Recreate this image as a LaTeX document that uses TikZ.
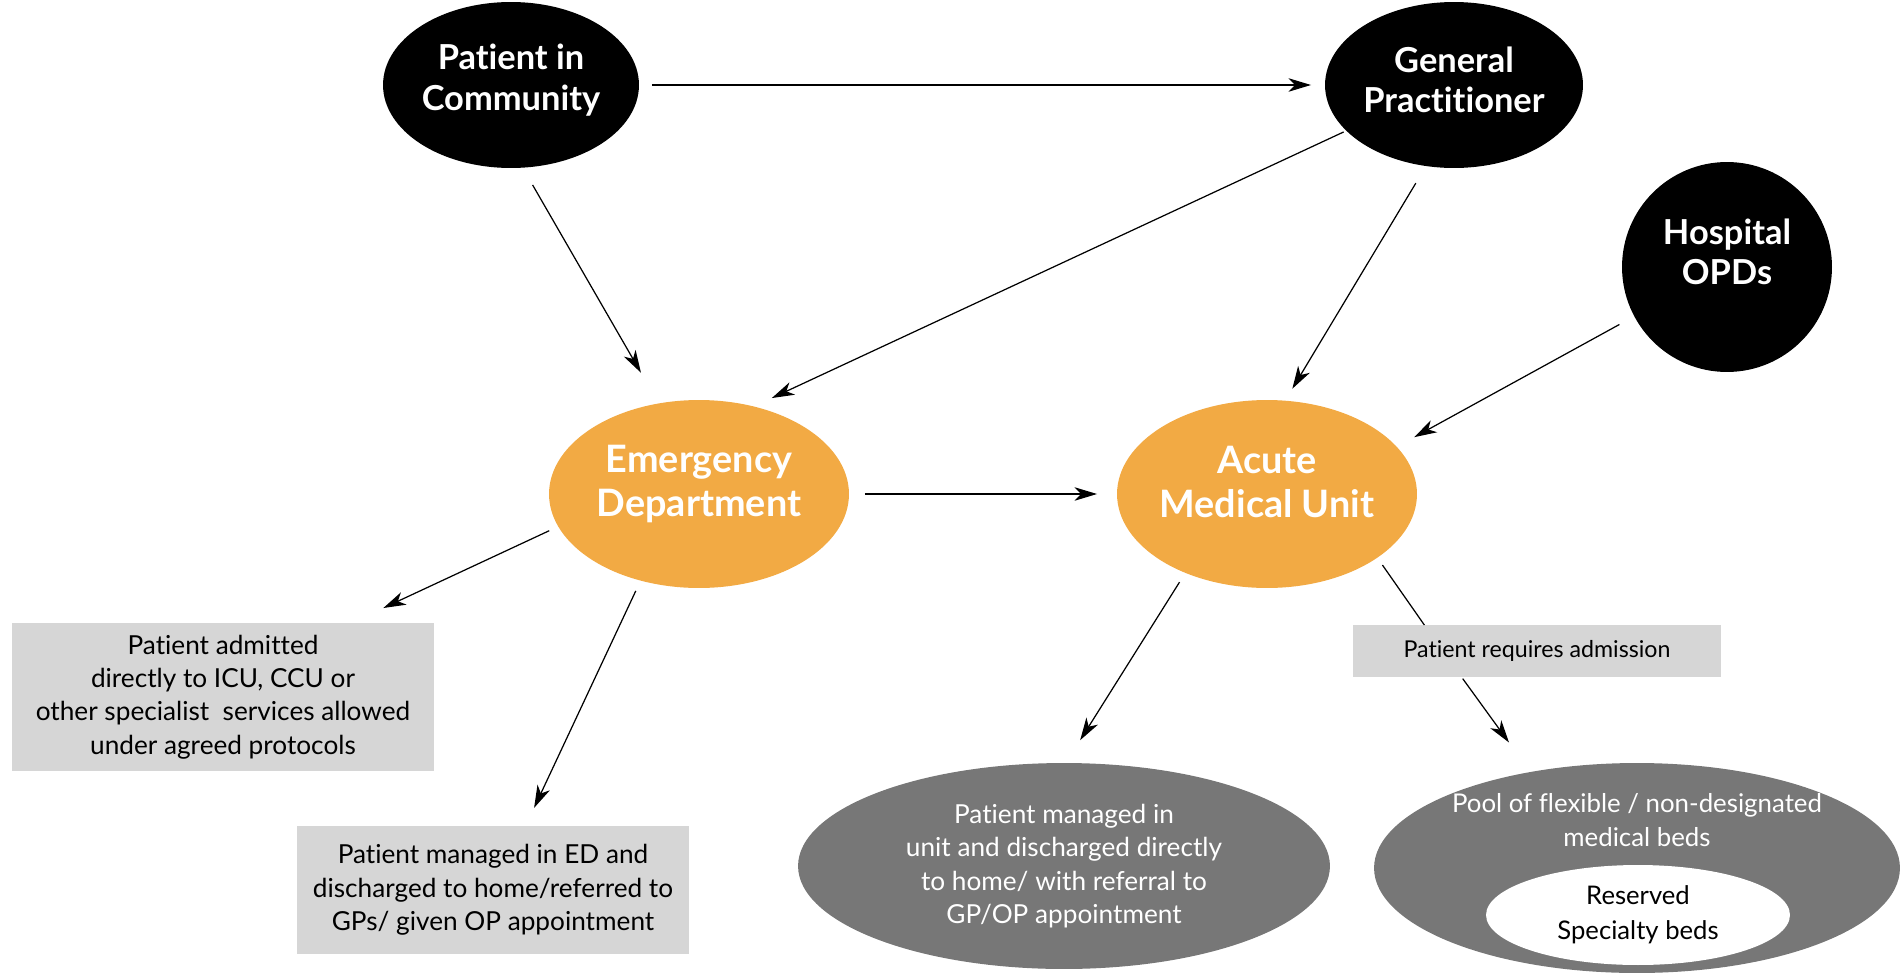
\documentclass[tikz,border=0pt]{standalone}
\usepackage{fontspec}
\setmainfont{Lato}[Ligatures={NoCommon}]
\usetikzlibrary{arrows.meta,shapes.geometric}
\definecolor{edorange}{HTML}{F2AA44}
\definecolor{boxgray}{HTML}{D6D6D6}
\definecolor{ellgray}{HTML}{777777}
\begin{document}
\begin{tikzpicture}[x=0.02cm,y=-0.02cm,
  blk/.style={ellipse, fill=black, inner sep=0pt, outer sep=0pt},
  blktxt/.style={text=white, align=center, inner sep=0pt, font=\fontsize{19.6}{23}\selectfont\bfseries},
  orng/.style={ellipse, fill=edorange, inner sep=0pt, outer sep=0pt,
    minimum width=6cm, minimum height=3.76cm},
  orngtxt/.style={text=white, align=center, inner sep=0pt, font=\fontsize{21.5}{24.5}\selectfont\bfseries},
  gbox/.style={rectangle, fill=boxgray, inner sep=0pt, outer sep=0pt, align=center,
    font=\fontsize{14.9}{19}\selectfont},
  gell/.style={ellipse, fill=ellgray, text=white, inner sep=0pt, outer sep=0pt, align=center,
    font=\fontsize{14.9}{19}\selectfont},
  arr/.style={draw, line width=0.7pt, -{Stealth[length=0.45cm,width=0.27cm,inset=0.13cm]}}
]
\useasboundingbox (0,0) rectangle (1900,977);
% main nodes
\node[blk, minimum width=5.12cm, minimum height=3.32cm] (pic) at (511,85) {};
\node[blktxt] (pictxt) at (511,80) {Patient in\\Community};
\node[blk, minimum width=5.16cm, minimum height=3.32cm] (gp) at (1454,85) {};
\node[blktxt] (gptxt) at (1454,80) {General\\Practitioner};
\node[blk, circle, minimum size=4.2cm] (opd) at (1727,267) {};
\node[blktxt] (opdtxt) at (1727,252) {Hospital\\OPDs};
\node[orng] (ed) at (699,494) {};
\node[orngtxt] (edtxt) at (699,484) {Emergency\\Department};
\node[orng] (amu) at (1267,494) {};
\node[orngtxt] (amutxt) at (1267,482) {Acute\\Medical Unit};
% outcome nodes
\node[gbox, minimum width=8.44cm, minimum height=2.96cm] (box1) at (223,697)
  {Patient admitted\\directly to ICU, CCU or\\other specialist\ \ services allowed\\under agreed protocols};
\node[gbox, minimum width=7.84cm, minimum height=2.56cm] (box2) at (493,890)
  {Patient managed in ED and\\discharged to home/referred to\\GPs/ given OP appointment};
\node[gbox, minimum width=7.36cm, minimum height=1.04cm, font=\fontsize{13.2}{17}\selectfont] (box3) at (1537,651)
  {Patient requires admission};
\node[gell, minimum width=10.64cm, minimum height=4.12cm] (ell1) at (1064,866)
  {Patient managed in\\unit and discharged directly\\to home/ with referral to\\GP/OP appointment};
\node[gell, minimum width=10.52cm, minimum height=4.2cm] (ell2) at (1637,868) {};
\node[text=white, align=center, inner sep=0pt, font=\fontsize{14.7}{19}\selectfont] (pooltext) at (1637,820)
  {Pool of flexible / non-designated\\medical beds};
\node[ellipse, fill=white, inner sep=0pt, outer sep=0pt, align=center, minimum width=6.08cm, minimum height=2cm,
  font=\fontsize{14.6}{20}\selectfont] (inner) at (1638,915) {Reserved\\Specialty beds};
% connectors
\draw[arr, shorten <=0.26cm, shorten >=0.28cm] (pic.east) -- (gp.west);
\draw[arr, shorten <=0.4cm, shorten >=0.71cm] (pic.-82.4) -- (ed.114.5);
\draw[arr, shorten <=0.06cm, shorten >=0.4cm] (gp.203.7) -- (ed.58.0);
\draw[arr, shorten <=0.4cm, shorten >=0.28cm] (gp.-109.6) -- (amu.79.5);
\draw[arr, shorten <=0.34cm, shorten >=0.4cm] (opd.208.4) -- (amu.20.9);
\draw[arr, shorten <=0.32cm, shorten >=0.4cm] (ed.east) -- (amu.west);
\draw[arr, shorten <=0.2cm, shorten >=0.71cm] (ed.193.1) -- (box1.30.2);
\draw[arr, shorten <=0.23cm, shorten >=0.4cm] (ed.-124.3) -- (box2.63.7);
\draw[arr, shorten <=0.22cm, shorten >=0.54cm] (amu.-136.7) -- (ell1.89);
\draw[line width=0.7pt, shorten <=0.18cm] (amu.-30.8) -- (box3.167);
\draw[arr, shorten <=0.04cm, shorten >=0.73cm] (box3.-161.7) -- (ell2.138.6);
\end{tikzpicture}
\end{document}
